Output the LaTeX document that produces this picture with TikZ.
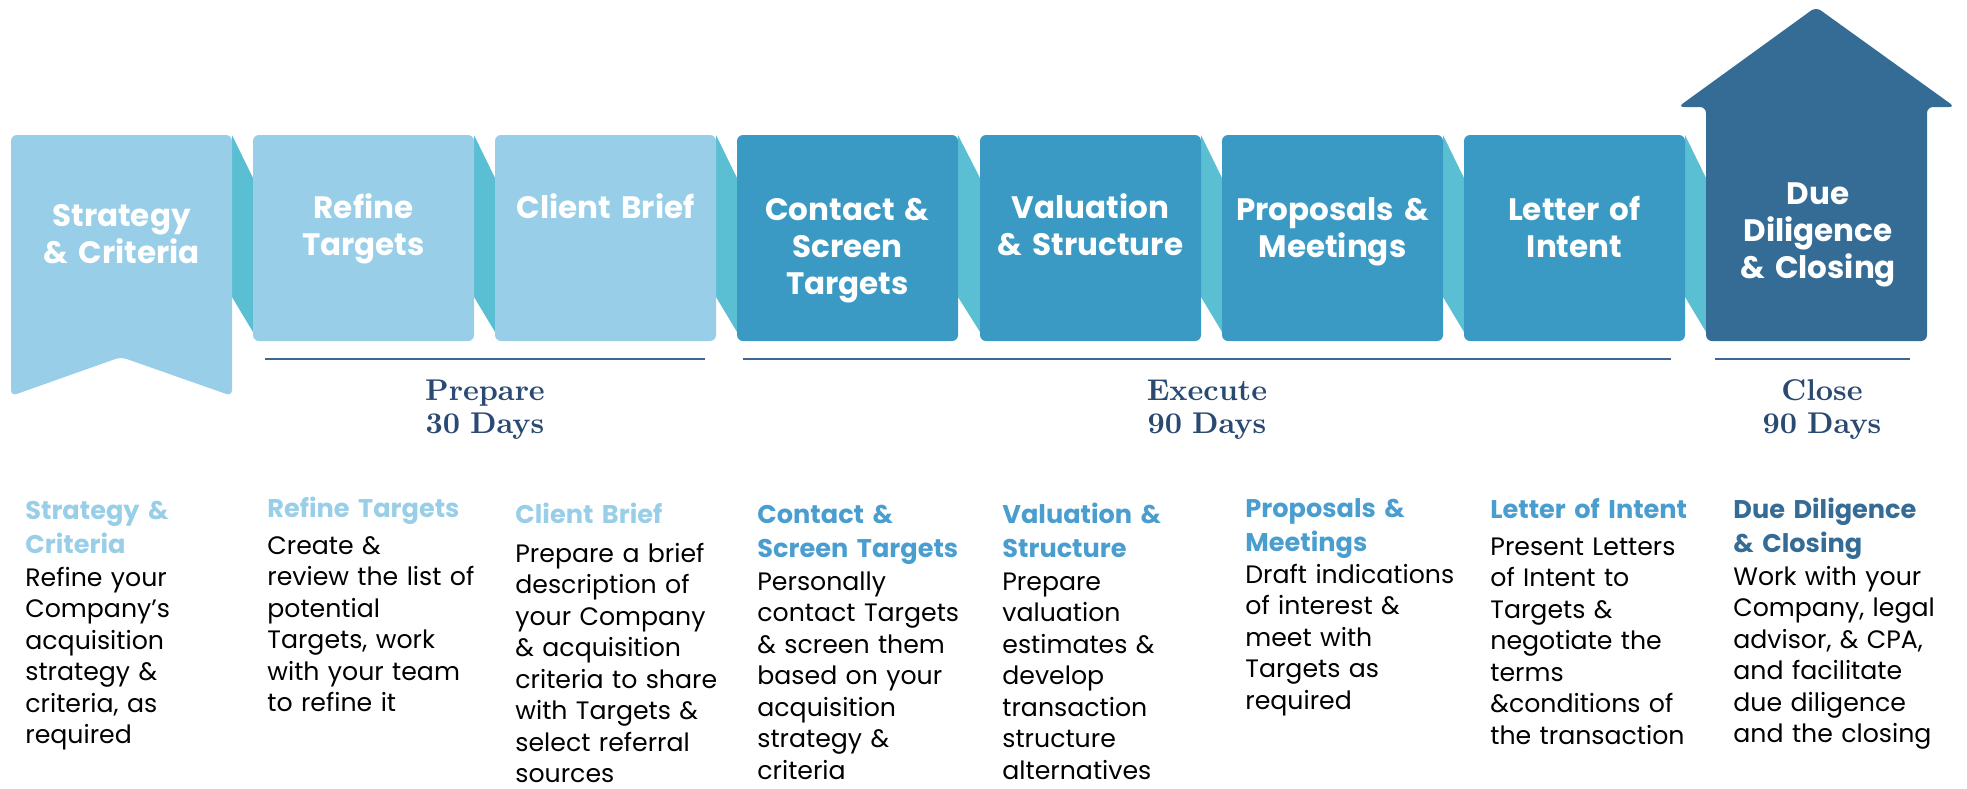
\documentclass[tikz,border=0pt]{standalone}
\usepackage{fontspec}
\usetikzlibrary{calc}
\newfontfamily\popp{Poppins}
\newfontfamily\phasefont{lmroman10-bold.otf}
\definecolor{lightbox}{HTML}{98CEE7}
\definecolor{midbox}{HTML}{3A9AC4}
\definecolor{darkbox}{HTML}{356C96}
\definecolor{conn}{HTML}{5BBFD3}
\definecolor{navy}{HTML}{2A4A72}
\definecolor{rulec}{HTML}{3D6596}
\definecolor{midhead}{HTML}{4A9ECF}
\pgfdeclarelayer{background}
\pgfsetlayers{background,main}
\begin{document}
\begin{tikzpicture}[x=0.5pt,y=-0.5pt,
  stepbox/.style={rectangle, minimum width=110.5pt, minimum height=103pt, inner sep=0pt, outer sep=0pt, rounded corners=3pt},
  title/.style={text=white, font=\popp\bfseries\fontsize{15.5}{18.5}\selectfont, align=center, text width=118pt, anchor=base, inner sep=0pt},
  head/.style={font=\popp\bfseries\fontsize{12.8}{17}\selectfont, align=left, text width=140pt, anchor=base west, inner sep=0pt},
  body/.style={font=\popp\fontsize{12.6}{15.75}\selectfont, text=black, align=left, text width=140pt, anchor=base west, inner sep=0pt},
  phase/.style={font=\phasefont\fontsize{15}{16.5}\selectfont, text=navy, align=center, text width=100pt, anchor=base, inner sep=0pt},
  connfill/.style={fill=conn},
  phaserule/.style={draw=rulec, line width=1.2pt}
]
\useasboundingbox (0,0) rectangle (1967,788);

% step boxes (b1 and b8 are placeholders for the banner and the house body)
\node[stepbox] (b1) at (121.5,238) {};
\node[stepbox, fill=lightbox] (b2) at (363.5,238) {};
\node[stepbox, fill=lightbox] (b3) at (605.5,238) {};
\node[stepbox, fill=midbox] (b4) at (847.5,238) {};
\node[stepbox, fill=midbox] (b5) at (1090.5,238) {};
\node[stepbox, fill=midbox] (b6) at (1332.5,238) {};
\node[stepbox, fill=midbox] (b7) at (1574.5,238) {};
\node[stepbox] (b8) at (1816.5,238) {};

% banner
\fill[lightbox, rounded corners=3pt] (b1.north west) -- (b1.north east) -- (232,396) -- (121,357) -- (11,396) -- cycle;
% house
\fill[darkbox, rounded corners=3pt] (b8.south west) -- (1706,107) -- (1678,107) -- (1816,7) -- (1955,107) -- (1927,107) -- (b8.south east) -- cycle;

% connectors
\begin{pgfonlayer}{background}
\foreach \a/\b in {b1/b2,b2/b3,b3/b4,b4/b5,b5/b6,b6/b7,b7/b8}{
  \fill[connfill] (\a.north east) -- ($(\b.north west)+(0,43)$) -- ($(\b.south west)+(0,-9)$) -- ($(\a.north east)+(0,162)$) -- cycle;
}
\end{pgfonlayer}

% titles
\node[title] (t1) at (121.5,226) {Strategy\\\& Criteria};
\node[title] (t2) at (363.5,218) {Refine\\Targets};
\node[title] (t3) at (605.5,218) {Client Brief};
\node[title] (t4) at (847.5,220) {Contact \&\\Screen\\Targets};
\node[title] (t5) at (1090.5,218) {Valuation\\\& Structure};
\node[title] (t6) at (1332.5,220) {Proposals \&\\Meetings};
\node[title] (t7) at (1574.5,220) {Letter of\\Intent};
\node[title] (t8) at (1818,204) {Due\\Diligence\\\& Closing};

% phase rules
\coordinate (p1a) at (265,359); \coordinate (p1b) at (705,359);
\coordinate (p2a) at (743,359); \coordinate (p2b) at (1671,359);
\coordinate (p3a) at (1715,359); \coordinate (p3b) at (1910,359);
\draw[phaserule] (p1a) -- (p1b);
\draw[phaserule] (p2a) -- (p2b);
\draw[phaserule] (p3a) -- (p3b);
\node[phase] (ph1) at (485,400) {Prepare\\30 Days};
\node[phase] (ph2) at (1207,400) {Execute\\90 Days};
\node[phase] (ph3) at (1822,400) {Close\\90 Days};

% descriptions
\node[head, text=lightbox] (h1) at (25,519) {Strategy \&\\Criteria};
\node[body] (d1) at (25,586) {Refine your\\Company’s\\acquisition\\strategy \&\\criteria, as\\required};

\node[head, text=lightbox] (h2) at (267,517) {Refine Targets};
\node[body] (d2) at (267,554) {Create \&\\review the list of\\potential\\Targets, work\\with your team\\to refine it};

\node[head, text=lightbox] (h3) at (515,523) {Client Brief};
\node[body] (d3) at (515,562) {Prepare a brief\\description of\\your Company\\\& acquisition\\criteria to share\\with Targets \&\\select referral\\sources};

\node[head, text=midhead] (h4) at (757,523) {Contact \&\\Screen Targets};
\node[body] (d4) at (757,590) {Personally\\contact Targets\\\& screen them\\based on your\\acquisition\\strategy \&\\criteria};

\node[head, text=midhead] (h5) at (1002,523) {Valuation \&\\Structure};
\node[body] (d5) at (1002,590) {Prepare\\valuation\\estimates \&\\develop\\transaction\\structure\\alternatives};

\node[head, text=midhead] (h6) at (1245,517) {Proposals \&\\Meetings};
\node[body] (d6) at (1245,583) {Draft indications\\of interest \&\\meet with\\Targets as\\required};

\node[head, text=midhead] (h7) at (1490,518) {Letter of Intent};
\node[body] (d7) at (1490,555) {Present Letters\\of Intent to\\Targets \&\\negotiate the\\terms\\\&conditions of\\the transaction};

\node[head, text=darkbox] (h8) at (1733,518) {Due Diligence\\\& Closing};
\node[body] (d8) at (1733,585) {Work with your\\Company, legal\\advisor, \& CPA,\\and facilitate\\due diligence\\and the closing};
\end{tikzpicture}
\end{document}
